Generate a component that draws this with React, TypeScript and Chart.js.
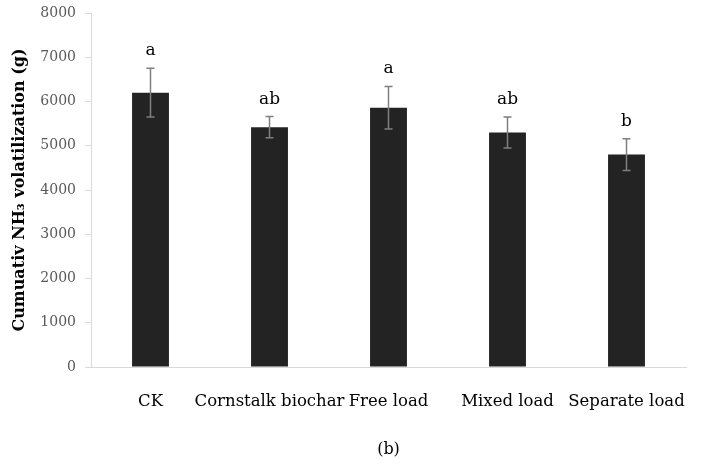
import React, { useEffect, useRef } from "react";
import { Chart, registerables } from "chart.js";

Chart.register(...registerables);

const categories = ["CK", "Cornstalk biochar", "Free load", "Mixed load", "Separate load"];
const means = [6200, 5420, 5860, 5300, 4800];
const errors = [550, 240, 480, 350, 360];
const letters = ["a", "ab", "a", "ab", "b"];
const yMin = 0;
const yMax = 8000;
const yStep = 1000;
const yTitle = "Cumuativ NH\u2083 volatilization (g)";
const caption = "(b)";

const FONT = "'DejaVu Serif', serif";

const annotPlugin = {
  id: "annot",
  afterDatasetsDraw(chart: any) {
    const ctx = chart.ctx;
    const meta = chart.getDatasetMeta(0);
    const y = chart.scales.y;
    ctx.save();
    meta.data.forEach((bar: any, i: number) => {
      const x = bar.x;
      const top = y.getPixelForValue(means[i] + errors[i]);
      const bot = y.getPixelForValue(means[i] - errors[i]);
      ctx.strokeStyle = "#7f7f7f";
      ctx.lineWidth = 1.5;
      ctx.beginPath();
      ctx.moveTo(x, top);
      ctx.lineTo(x, bot);
      ctx.moveTo(x - 4, top);
      ctx.lineTo(x + 4, top);
      ctx.moveTo(x - 4, bot);
      ctx.lineTo(x + 4, bot);
      ctx.stroke();
      ctx.fillStyle = "#000";
      ctx.font = "17px " + FONT;
      ctx.textAlign = "center";
      ctx.textBaseline = "alphabetic";
      ctx.fillText(letters[i], x, top - 13);
    });
    const ca = chart.chartArea;
    ctx.font = "16px " + FONT;
    ctx.fillStyle = "#000";
    ctx.textAlign = "center";
    ctx.textBaseline = "middle";
    ctx.fillText(caption, (ca.left + ca.right) / 2, 450);
    ctx.restore();
  },
};

export default function App() {
  const ref = useRef<HTMLCanvasElement>(null);
  useEffect(() => {
    const chart = new Chart(ref.current!, {
      type: "bar",
      data: {
        labels: categories,
        datasets: [
          {
            data: means,
            backgroundColor: "#232323",
            borderWidth: 0,
            categoryPercentage: 1,
            barPercentage: 0.31,
          },
        ],
      },
      plugins: [annotPlugin],
      options: {
        animation: false,
        responsive: false,
        maintainAspectRatio: false,
        layout: { padding: { left: 4, right: 29, top: 13, bottom: 41 } },
        plugins: { legend: { display: false }, tooltip: { enabled: false } },
        scales: {
          x: {
            grid: { display: false, drawTicks: false },
            border: { display: true, color: "#d9d9d9", width: 1 },
            ticks: { color: "#000", font: { family: FONT, size: 16.5 }, padding: 25, maxRotation: 0, autoSkip: false },
            afterFit: (s: any) => { s.height = 60; s.paddingLeft = 0; s.paddingRight = 0; },
          },
          y: {
            min: yMin,
            max: yMax,
            grid: { display: true, drawOnChartArea: false, drawTicks: true, tickLength: 6, color: "#d9d9d9" },
            border: { display: true, color: "#d9d9d9", width: 1 },
            ticks: {
              stepSize: yStep,
              color: "#595959",
              font: { family: FONT, size: 14 },
              padding: 9,
              callback: (v: any) => String(v),
            },
            title: {
              display: true,
              text: yTitle,
              color: "#000",
              font: { family: FONT, size: 16, weight: "bold" },
              padding: { top: 6, bottom: 0 },
            },
            afterFit: (s: any) => { s.width = 87; s.paddingTop = 0; s.paddingBottom = 0; },
          },
        },
      },
    });
    return () => chart.destroy();
  }, []);
  return (
    <div style={{ position: "fixed", left: 0, top: 0, width: 715, height: 468, background: "#fff" }}>
      <canvas ref={ref} width={715} height={468} style={{ width: 715, height: 468 }} />
    </div>
  );
}
